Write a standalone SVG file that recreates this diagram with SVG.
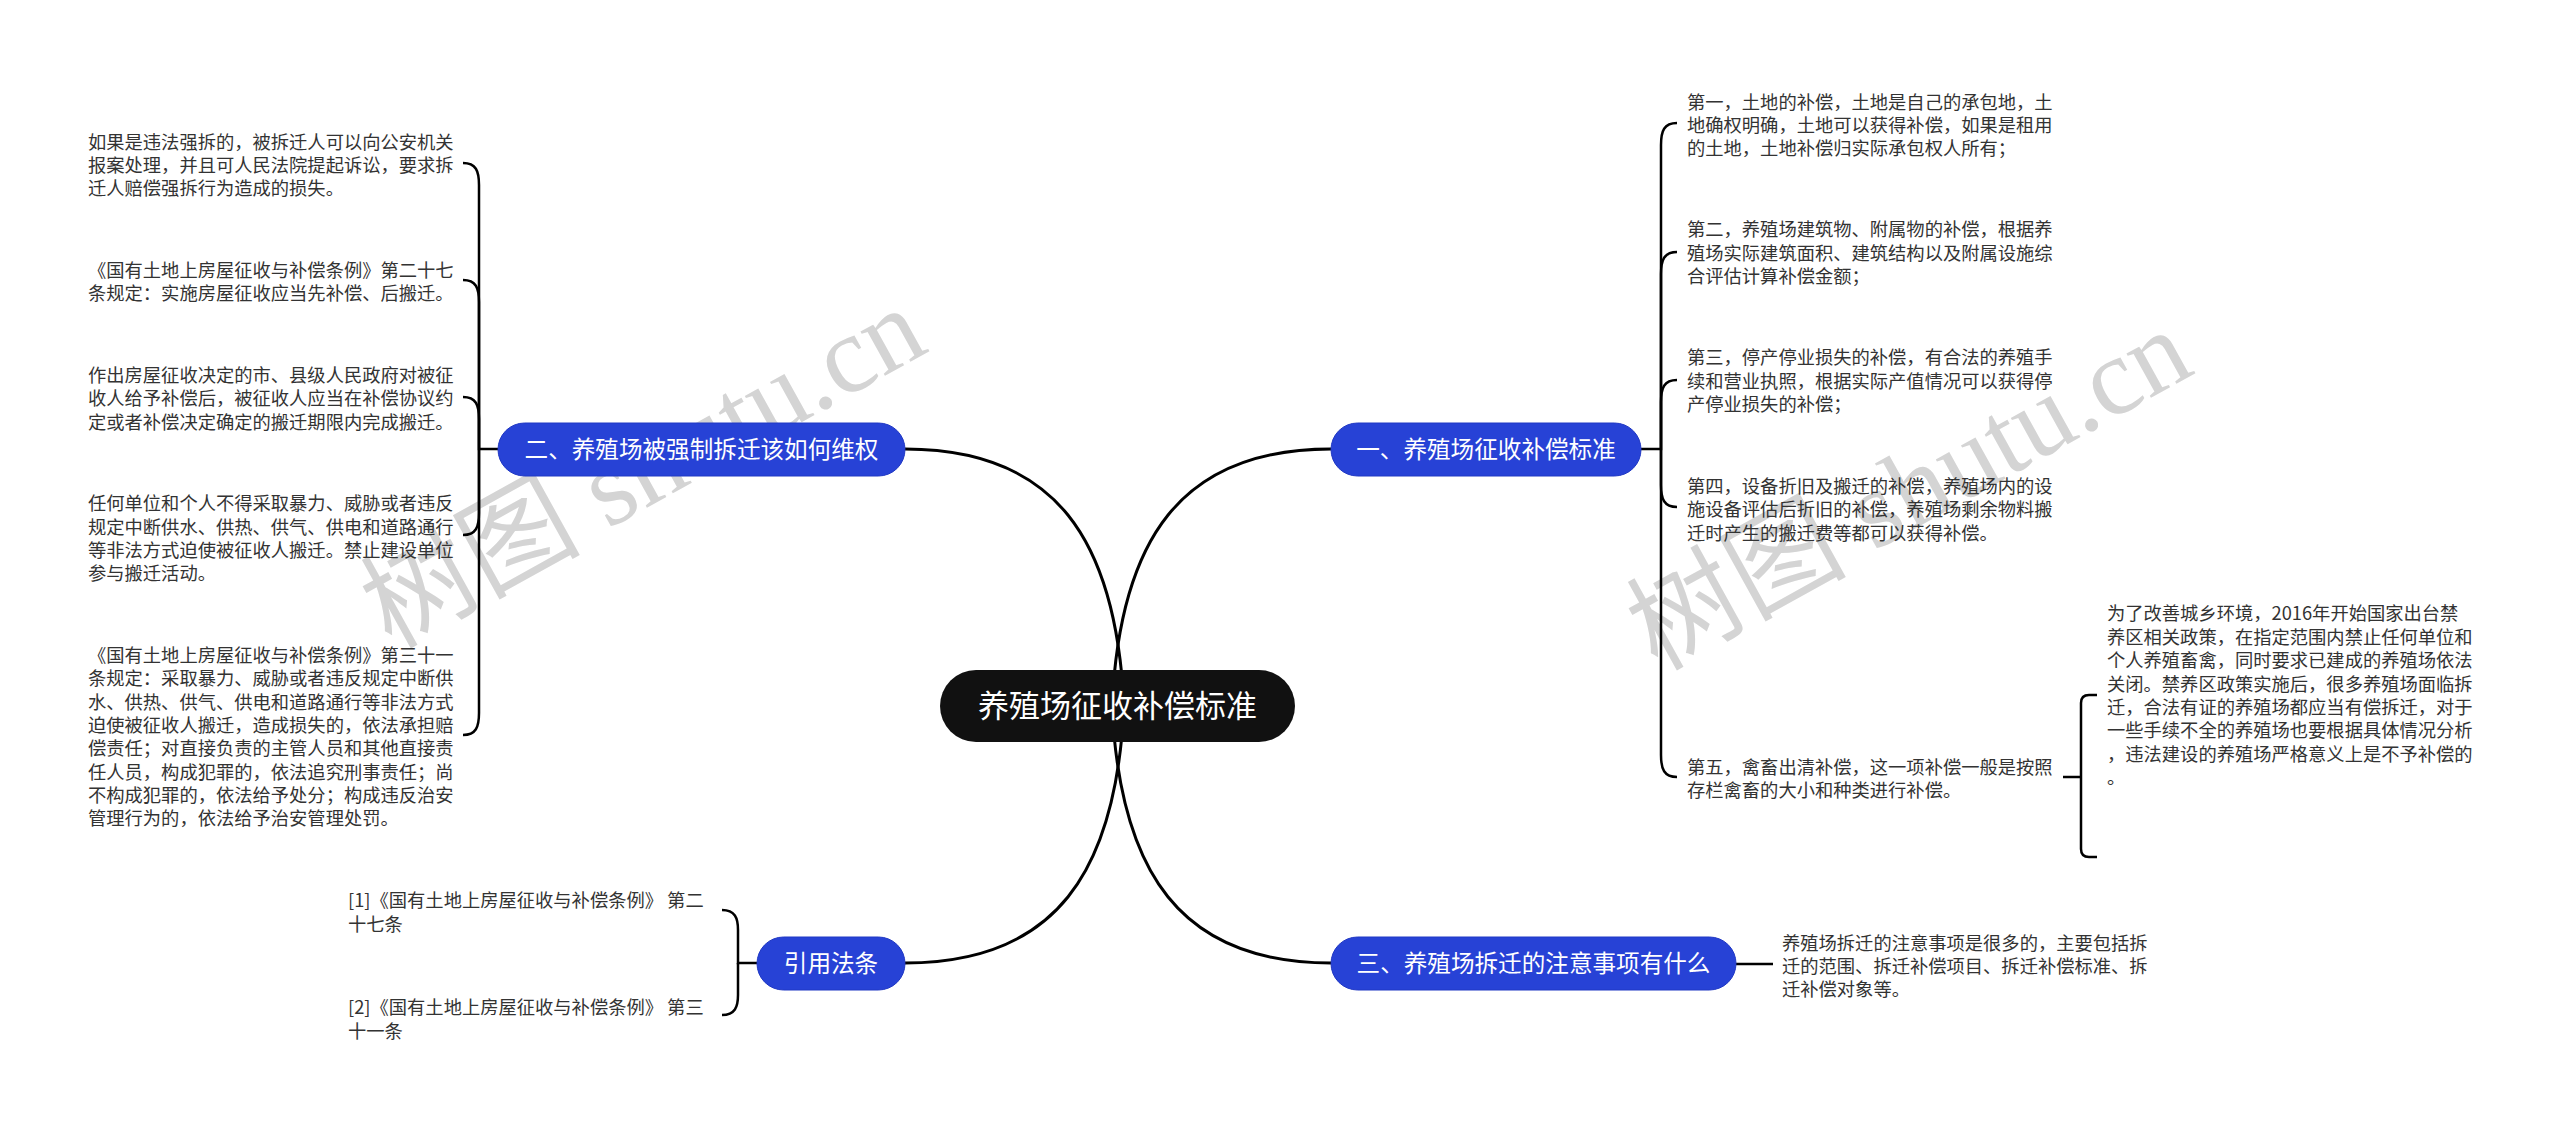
<svg xmlns="http://www.w3.org/2000/svg" width="2560" height="1127" viewBox="0 0 2560 1127">
<style>
.wm{font-family:"Liberation Serif","Noto Sans CJK SC",serif;font-size:110px;fill:#d4d4d4;}
.leaf{font-family:"Noto Sans CJK SC","Noto Sans",sans-serif;font-size:18.3px;fill:#333333;}
.br{font-family:"Noto Sans CJK SC","Noto Sans",sans-serif;font-size:23.6px;fill:#ffffff;text-anchor:middle;}
.root{font-family:"Noto Sans CJK SC","Noto Sans",sans-serif;font-size:31px;fill:#ffffff;text-anchor:middle;}
.bnode{fill:#2742D6;stroke:#2038C4;stroke-width:1;}
.main{fill:none;stroke:#000000;stroke-width:3;}
.sub{fill:none;stroke:#000000;stroke-width:2.5;}
</style>
<rect width="2560" height="1127" fill="#ffffff"/>
<g id="watermarks">
<text class="wm" transform="translate(661,500) rotate(-29)" text-anchor="middle">树图 shutu.cn</text>
<text class="wm" transform="translate(1927,522) rotate(-29)" text-anchor="middle">树图 shutu.cn</text>
</g>
<g id="connectors">
<path class="main" d="M1331 449 C1180 449 1120 540 1112 706"/>
<path class="main" d="M905 449 C1056 449 1116 540 1124 706"/>
<path class="main" d="M1331 963 C1180 963 1120 872 1112 706"/>
<path class="main" d="M905 963 C1056 963 1116 872 1124 706"/>
<!-- branch 1 bracket -->
<path class="sub" d="M1641 449 H1661 V145 C1661 131 1664 123 1677 123"/>
<path class="sub" d="M1661 449 V274 C1661 260 1664 252 1677 252"/>
<path class="sub" d="M1661 449 V402 C1661 388 1664 380 1677 380"/>
<path class="sub" d="M1661 449 V485 C1661 499 1664 507 1677 507"/>
<path class="sub" d="M1661 449 V755 C1661 769 1664 777 1677 777"/>
<!-- 第五 child bracket -->
<path class="sub" d="M2063 777 H2081"/>
<path class="sub" d="M2097 695 H2089 Q2081 695 2081 703 V849 Q2081 857 2089 857 H2097"/>
<!-- branch 3 -->
<path class="sub" d="M1736 964 H1773"/>
<!-- branch 2 bracket -->
<path class="sub" d="M498 449 H479 V185 C479 171 476 163 463 163"/>
<path class="sub" d="M479 449 V302 C479 288 476 280 463 280"/>
<path class="sub" d="M479 449 V419 C479 405 476 397 463 397"/>
<path class="sub" d="M479 449 V513 C479 527 476 535 463 535"/>
<path class="sub" d="M479 449 V713 C479 727 476 735 463 735"/>
<!-- branch 4 bracket -->
<path class="sub" d="M757 963 H738 V930 C738 918 735 910 722 910"/>
<path class="sub" d="M738 963 V995 C738 1007 735 1015 722 1015"/>
</g>
<g id="root">
<rect x="940" y="670" width="355" height="72" rx="36" fill="#111111"/>
<text class="root" x="1117.5" y="717">养殖场征收补偿标准</text>
</g>
<g id="branch1">
<rect class="bnode" x="1331" y="423" width="310" height="53" rx="26.5"/>
<text class="br" x="1486" y="458">一、养殖场征收补偿标准</text>
</g>
<g id="branch2">
<rect class="bnode" x="498" y="423" width="407" height="53" rx="26.5"/>
<text class="br" x="701.5" y="458">二、养殖场被强制拆迁该如何维权</text>
</g>
<g id="branch3">
<rect class="bnode" x="1331" y="937" width="405" height="53" rx="26.5"/>
<text class="br" x="1533.5" y="972">三、养殖场拆迁的注意事项有什么</text>
</g>
<g id="branch4">
<rect class="bnode" x="757" y="937" width="148" height="53" rx="26.5"/>
<text class="br" x="831" y="972">引用法条</text>
</g>
<g id="leaf1-1"><text class="leaf"><tspan x="1687" y="108.5">第一，土地的补偿，土地是自己的承包地，土</tspan><tspan x="1687" y="131.8">地确权明确，土地可以获得补偿，如果是租用</tspan><tspan x="1687" y="155.1">的土地，土地补偿归实际承包权人所有；</tspan></text></g>
<g id="leaf1-2"><text class="leaf"><tspan x="1687" y="236.3">第二，养殖场建筑物、附属物的补偿，根据养</tspan><tspan x="1687" y="259.6">殖场实际建筑面积、建筑结构以及附属设施综</tspan><tspan x="1687" y="282.9">合评估计算补偿金额；</tspan></text></g>
<g id="leaf1-3"><text class="leaf"><tspan x="1687" y="364.3">第三，停产停业损失的补偿，有合法的养殖手</tspan><tspan x="1687" y="387.6">续和营业执照，根据实际产值情况可以获得停</tspan><tspan x="1687" y="410.9">产停业损失的补偿；</tspan></text></g>
<g id="leaf1-4"><text class="leaf"><tspan x="1687" y="493">第四，设备折旧及搬迁的补偿，养殖场内的设</tspan><tspan x="1687" y="516.3">施设备评估后折旧的补偿，养殖场剩余物料搬</tspan><tspan x="1687" y="539.6">迁时产生的搬迁费等都可以获得补偿。</tspan></text></g>
<g id="leaf1-5"><text class="leaf"><tspan x="1687" y="773.7">第五，禽畜出清补偿，这一项补偿一般是按照</tspan><tspan x="1687" y="797">存栏禽畜的大小和种类进行补偿。</tspan></text></g>
<g id="leaf1-5-1"><text class="leaf"><tspan x="2107" y="620.3">为了改善城乡环境，2016年开始国家出台禁</tspan><tspan x="2107" y="643.7">养区相关政策，在指定范围内禁止任何单位和</tspan><tspan x="2107" y="667.1">个人养殖畜禽，同时要求已建成的养殖场依法</tspan><tspan x="2107" y="690.5">关闭。禁养区政策实施后，很多养殖场面临拆</tspan><tspan x="2107" y="713.9">迁，合法有证的养殖场都应当有偿拆迁，对于</tspan><tspan x="2107" y="737.3">一些手续不全的养殖场也要根据具体情况分析</tspan><tspan x="2107" y="760.7">，违法建设的养殖场严格意义上是不予补偿的</tspan><tspan x="2107" y="784.1">。</tspan></text></g>
<g id="leaf3-1"><text class="leaf"><tspan x="1782" y="949.5">养殖场拆迁的注意事项是很多的，主要包括拆</tspan><tspan x="1782" y="972.8">迁的范围、拆迁补偿项目、拆迁补偿标准、拆</tspan><tspan x="1782" y="996.1">迁补偿对象等。</tspan></text></g>
<g id="leaf2-1"><text class="leaf"><tspan x="88" y="148.7">如果是违法强拆的，被拆迁人可以向公安机关</tspan><tspan x="88" y="172">报案处理，并且可人民法院提起诉讼，要求拆</tspan><tspan x="88" y="195.3">迁人赔偿强拆行为造成的损失。</tspan></text></g>
<g id="leaf2-2"><text class="leaf"><tspan x="88" y="277">《国有土地上房屋征收与补偿条例》第二十七</tspan><tspan x="88" y="300.3">条规定：实施房屋征收应当先补偿、后搬迁。</tspan></text></g>
<g id="leaf2-3"><text class="leaf"><tspan x="88" y="382">作出房屋征收决定的市、县级人民政府对被征</tspan><tspan x="88" y="405.3">收人给予补偿后，被征收人应当在补偿协议约</tspan><tspan x="88" y="428.6">定或者补偿决定确定的搬迁期限内完成搬迁。</tspan></text></g>
<g id="leaf2-4"><text class="leaf"><tspan x="88" y="510.3">任何单位和个人不得采取暴力、威胁或者违反</tspan><tspan x="88" y="533.6">规定中断供水、供热、供气、供电和道路通行</tspan><tspan x="88" y="556.9">等非法方式迫使被征收人搬迁。禁止建设单位</tspan><tspan x="88" y="580.2">参与搬迁活动。</tspan></text></g>
<g id="leaf2-5"><text class="leaf"><tspan x="88" y="662">《国有土地上房屋征收与补偿条例》第三十一</tspan><tspan x="88" y="685.3">条规定：采取暴力、威胁或者违反规定中断供</tspan><tspan x="88" y="708.6">水、供热、供气、供电和道路通行等非法方式</tspan><tspan x="88" y="731.9">迫使被征收人搬迁，造成损失的，依法承担赔</tspan><tspan x="88" y="755.2">偿责任；对直接负责的主管人员和其他直接责</tspan><tspan x="88" y="778.5">任人员，构成犯罪的，依法追究刑事责任；尚</tspan><tspan x="88" y="801.8">不构成犯罪的，依法给予处分；构成违反治安</tspan><tspan x="88" y="825.1">管理行为的，依法给予治安管理处罚。</tspan></text></g>
<g id="leaf4-1"><text class="leaf"><tspan x="348" y="906.7">[1]《国有土地上房屋征收与补偿条例》 第二</tspan><tspan x="348" y="931.2">十七条</tspan></text></g>
<g id="leaf4-2"><text class="leaf"><tspan x="348" y="1013.5">[2]《国有土地上房屋征收与补偿条例》 第三</tspan><tspan x="348" y="1038">十一条</tspan></text></g>
</svg>
